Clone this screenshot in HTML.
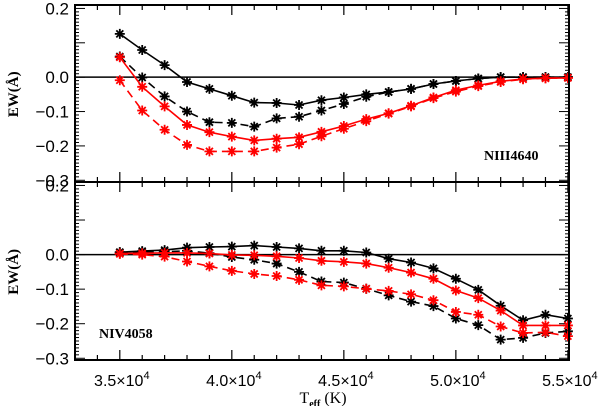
<!DOCTYPE html>
<html><head><meta charset="utf-8"><style>
html,body{margin:0;padding:0;background:#fff;}
svg{display:block;font-family:"Liberation Sans",sans-serif;}
</style></head><body>
<svg id="chart" width="600" height="406" viewBox="0 0 600 406" xmlns="http://www.w3.org/2000/svg"></svg>
<script>
const temps=[35000,36000,37000,38000,39000,40000,41000,42000,43000,44000,45000,46000,47000,48000,49000,50000,51000,52000,53000,54000,55000];
const n3BlackSolid=[0.126,0.079,0.035,-0.014,-0.034,-0.054,-0.074,-0.075,-0.081,-0.067,-0.059,-0.05,-0.043,-0.034,-0.02,-0.011,-0.004,0,0,0,0];
const n3BlackDashed=[0.06,-0.001,-0.056,-0.1,-0.131,-0.133,-0.144,-0.12,-0.115,-0.097,-0.078,-0.057,-0.043,-0.034,-0.02,-0.011,-0.004,0,0,0,0];
const n3RedSolid=[0.058,-0.028,-0.085,-0.139,-0.16,-0.173,-0.184,-0.179,-0.175,-0.159,-0.142,-0.122,-0.105,-0.083,-0.059,-0.038,-0.024,-0.012,-0.005,-0.003,-0.002];
const n3RedDashed=[-0.009,-0.097,-0.153,-0.197,-0.216,-0.216,-0.216,-0.205,-0.195,-0.172,-0.15,-0.128,-0.106,-0.085,-0.061,-0.042,-0.026,-0.014,-0.006,-0.003,-0.002];
const n4BlackSolid=[0.007,0.01,0.013,0.02,0.022,0.023,0.026,0.022,0.018,0.011,0.011,0.006,-0.012,-0.023,-0.04,-0.07,-0.102,-0.148,-0.19,-0.174,-0.185];
const n4BlackDashed=[0.006,0.007,0.008,0.011,0.004,-0.007,-0.015,-0.026,-0.05,-0.078,-0.081,-0.099,-0.118,-0.136,-0.149,-0.185,-0.204,-0.246,-0.241,-0.227,-0.222];
const n4RedSolid=[0.003,0.004,0.005,0.005,0.003,-0.001,-0.002,-0.005,-0.01,-0.018,-0.021,-0.026,-0.038,-0.052,-0.07,-0.104,-0.126,-0.162,-0.205,-0.205,-0.205];
const n4RedDashed=[0.002,0,-0.006,-0.02,-0.034,-0.047,-0.056,-0.062,-0.073,-0.089,-0.092,-0.099,-0.105,-0.115,-0.132,-0.166,-0.174,-0.208,-0.227,-0.225,-0.236];
const xTickVals=[35000,40000,45000,50000,55000];
const xTickLabels=["3.5","4.0","4.5","5.0","5.5"];
const yTickVals=[0.2,0.0,-0.1,-0.2,-0.3];
const yTickLabels=["0.2","0.0","\u22120.1","\u22120.2","\u22120.3"];

const NS="http://www.w3.org/2000/svg";
const svg=document.getElementById('chart');
const L=75,R=569,XMIN=33000,XMAX=55050,YMAX=0.21,YMIN=-0.305;
const xs=v=>L+(v-XMIN)/(XMAX-XMIN)*(R-L);
function mk(tag,attrs,parent){const e=document.createElementNS(NS,tag);for(const k in attrs)e.setAttribute(k,attrs[k]);(parent||svg).appendChild(e);return e;}

function panel(top,bot,name,series,label,lx,ly){
  const ys=v=>top+(YMAX-v)/(YMAX-YMIN)*(bot-top);
  const g=mk('g',{});
  
  
  const z=mk('line',{x1:L,x2:R,y1:ys(0),y2:ys(0),stroke:'#000','stroke-width':1.5},g);
  
  
  for(let t=34000;t<=55000;t+=1000){
    const major=t%5000===0, len=major?10:5;
    mk('line',{x1:xs(t),x2:xs(t),y1:bot,y2:bot-len,stroke:'#000','stroke-width':1.2},g);
    mk('line',{x1:xs(t),x2:xs(t),y1:top,y2:top+len,stroke:'#000','stroke-width':1.2},g);
  }
  for(let i=-30;i<=21;i++){
    const v=i*0.01; const major=i%10===0; const len=major?10:4;
    if(v<YMIN||v>YMAX)continue;
    mk('line',{x1:L,x2:L+len,y1:ys(v),y2:ys(v),stroke:'#000','stroke-width':1},g);
    mk('line',{x1:R,x2:R-len,y1:ys(v),y2:ys(v),stroke:'#000','stroke-width':1},g);
  }
  yTickVals.forEach((v,i)=>{
    const t=mk('text',{x:L-6,y:ys(v)+6,'text-anchor':'end','font-size':17},g);
    t.textContent=yTickLabels[i];
    
    
  });
  series.forEach(s=>{
    const pts=temps.map((t,i)=>xs(t).toFixed(1)+','+ys(s.vals[i]).toFixed(1)).join(' ');
    const pl=mk('polyline',{points:pts,fill:'none',stroke:s.color,'stroke-width':1.6,'stroke-dasharray':s.dash?'8,5':'none'},g);
    
    
    temps.forEach((t,i)=>{
      const cx=xs(t),cy=ys(s.vals[i]),r=5;
      const m=mk('path',{d:`M${cx-r},${cy}H${cx+r}M${cx},${cy-r}V${cy+r}M${cx-r*0.7},${cy-r*0.7}L${cx+r*0.7},${cy+r*0.7}M${cx-r*0.7},${cy+r*0.7}L${cx+r*0.7},${cy-r*0.7}`,stroke:s.color,'stroke-width':1.8},g);
      
      
    });
  });
  const lab=mk('text',{x:lx,y:ly,'font-size':14,'font-weight':'bold','font-family':'Liberation Serif, serif'},g);
  lab.textContent=label;
  
  
  const yl=mk('text',{transform:`translate(18,${ys(-0.05)}) rotate(-90)`,'text-anchor':'middle','font-size':15,'font-weight':'bold','font-family':'Liberation Serif, serif'},g);
  yl.textContent='EW(Å)';
  
  
  const fr=mk('rect',{x:L,y:top,width:R-L,height:bot-top,fill:'none',stroke:'#000','stroke-width':2},g);
  
  
}
panel(5,182,'niii-panel',[
  {vals:n3BlackSolid,color:'#000',dash:false,name:'niii-black-solid'},
  {vals:n3BlackDashed,color:'#000',dash:true,name:'niii-black-dashed'},
  {vals:n3RedSolid,color:'#f00',dash:false,name:'niii-red-solid'},
  {vals:n3RedDashed,color:'#f00',dash:true,name:'niii-red-dashed'}],'NIII4640',484,160);
panel(182,360,'niv-panel',[
  {vals:n4BlackSolid,color:'#000',dash:false,name:'niv-black-solid'},
  {vals:n4BlackDashed,color:'#000',dash:true,name:'niv-black-dashed'},
  {vals:n4RedSolid,color:'#f00',dash:false,name:'niv-red-solid'},
  {vals:n4RedDashed,color:'#f00',dash:true,name:'niv-red-dashed'}],'NIV4058',99,338);
xTickVals.forEach((v,i)=>{
  const t=mk('text',{x:xs(v)+2,y:386,'text-anchor':'middle','font-size':16});
  t.innerHTML=xTickLabels[i]+'×10<tspan dy="-7" font-size="11">4</tspan>';
  
  
});
const xt=mk('text',{x:323,y:403,'text-anchor':'middle','font-size':16,'font-family':'Liberation Serif, serif'});
xt.innerHTML='T<tspan dy="4" font-size="10" font-weight="bold">eff</tspan><tspan dy="-4"> (K)</tspan>';


</script>
</body></html>
